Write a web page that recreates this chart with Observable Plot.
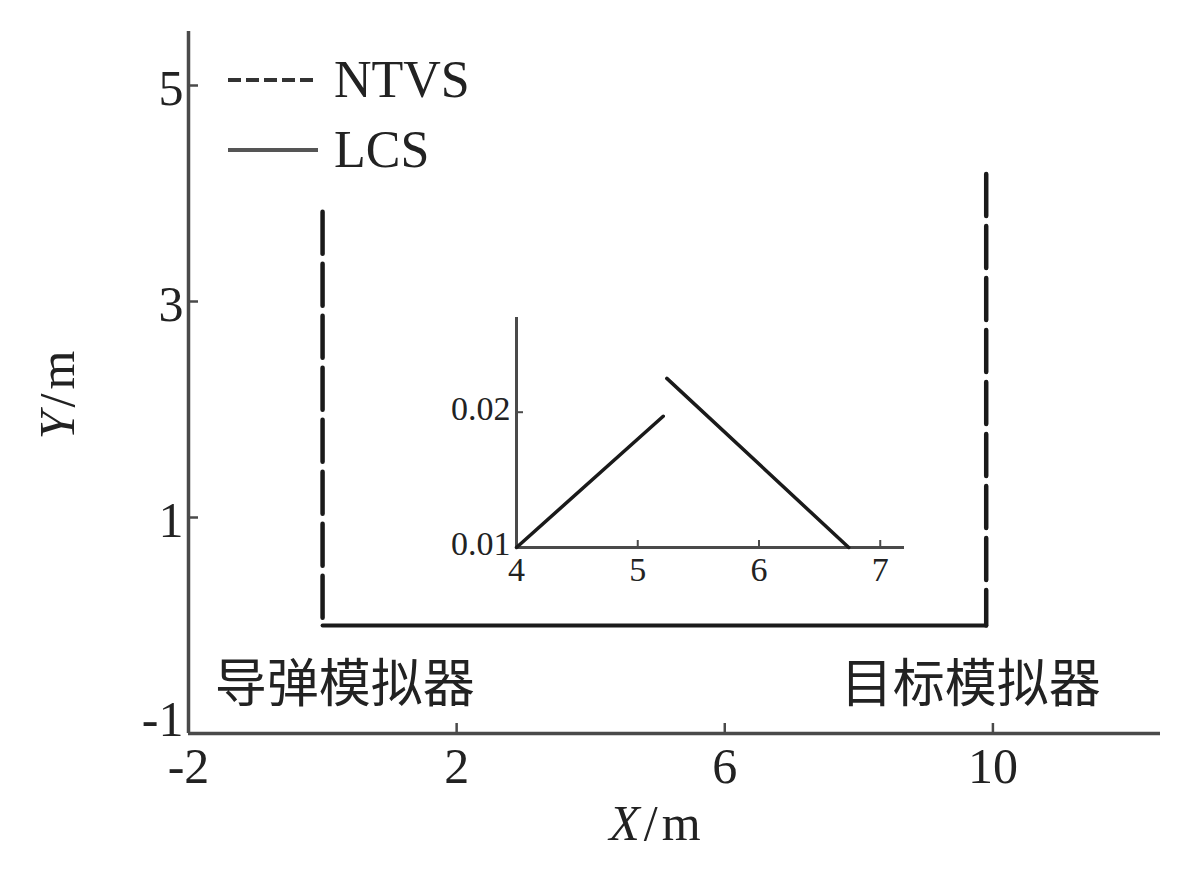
<!DOCTYPE html>
<html>
<head>
<meta charset="utf-8">
<script src="https://cdn.jsdelivr.net/npm/d3@7"></script>
<script src="https://cdn.jsdelivr.net/npm/@observablehq/plot@0.6"></script>
<style>
  html, body { margin: 0; padding: 0; background: white; }
  #wrap { position: relative; width: 1200px; height: 882px; }
  #inset { position: absolute; left: 416px; top: 307px; }
</style>
</head>
<body>
<div id="wrap"><div id="main"></div><div id="inset"></div></div>
<script>
// ---- main chart data ----
const xTicks = [-2, 2, 6, 10];
const yTicks = [-1, 1, 3, 5];
const ntvsX = [0, 9.9];          // dashed vertical lines (NTVS)
const ntvsTop = [3.83, 4.18];    // top of each dashed line
const lcsX = [0, 9.9];           // solid line (LCS)
const lcsY = [0, 0];
const simNames = ["导弹模拟器", "目标模拟器"];
const simX = [0.33, 9.67];
const simY = [-0.55, -0.55];

// ---- inset data ----
const insetXTicks = [4, 5, 6, 7];
const insetYTicks = [0.01, 0.02];
const seg1X = [4, 5.21];
const seg1Y = [0.01, 0.0197];
const seg2X = [5.24, 6.74];
const seg2Y = [0.0225, 0.01];

const axisColor = "#4a4a4a";
const lineColor = "#1a1a1a";
const serif = "'Liberation Serif', 'Times New Roman', serif";
const fmt = d => String(d);   // plain hyphen minus like the reference

// dashed lines drawn from the top down so the dash pattern starts at the top
const ntvsData = ntvsX.flatMap((x, i) => [
  {x, y: ntvsTop[i], id: i}, {x, y: 0, id: i}
]);
const lcsData = lcsX.map((x, i) => ({x, y: lcsY[i]}));
const simData = simNames.map((name, i) => ({name, x: simX[i], y: simY[i]}));
const yMin = d3.min(yTicks);

const main = Plot.plot({
  width: 1200, height: 882,
  marginLeft: 188, marginRight: 40, marginTop: 31, marginBottom: 149,
  x: {domain: [-2, 12.5]},
  y: {domain: [-1, 5.5]},
  style: {fontFamily: serif, fontSize: "50px", color: "#222", background: "white"},
  marks: [
    Plot.ruleX([-2], {stroke: axisColor, strokeWidth: 3.5}),
    Plot.ruleY([-1], {stroke: axisColor, strokeWidth: 3.5}),
    Plot.axisX(xTicks, {tickSize: -10, tickFormat: () => "", label: null, stroke: axisColor, strokeWidth: 2.5}),
    Plot.axisX(xTicks, {tickSize: 0, tickPadding: 14, label: null, fontSize: 50, tickFormat: fmt}),
    Plot.axisY(yTicks, {tickSize: -10, tickFormat: () => "", label: null, stroke: axisColor, strokeWidth: 2.5}),
    Plot.axisY(yTicks.filter(d => d !== yMin), {tickSize: 0, tickPadding: 5, label: null, fontSize: 50, tickFormat: fmt, dy: 3}),
    Plot.axisY(yTicks.filter(d => d === yMin), {tickSize: 0, tickPadding: 5, label: null, fontSize: 50, tickFormat: fmt, dy: -14}),
    Plot.line(ntvsData, {x: "x", y: "y", z: "id", stroke: lineColor, strokeWidth: 4.5, strokeDasharray: "42,10"}),
    Plot.line(lcsData, {x: "x", y: "y", stroke: lineColor, strokeWidth: 4}),
    Plot.text(simData, {x: "x", y: "y", text: "name", fontFamily: "'Noto Sans CJK SC', sans-serif", fontSize: 52, fill: "#222"})
  ]
});
document.getElementById("main").appendChild(main);

// axis labels and legend (real text)
const svg = d3.select(main);
const xl = svg.append("text").attr("x", 655).attr("y", 840).attr("text-anchor", "middle")
  .attr("font-family", serif).attr("font-size", 50).attr("fill", "#222");
xl.append("tspan").attr("font-style", "italic").text("X");
xl.append("tspan").attr("dx", 4).text("/");
xl.append("tspan").attr("dx", 4).text("m");
const yl = svg.append("text").attr("transform", "translate(74,395) rotate(-90)").attr("text-anchor", "middle")
  .attr("font-family", serif).attr("font-size", 50).attr("fill", "#222");
yl.append("tspan").attr("font-style", "italic").text("Y");
yl.append("tspan").attr("dx", 4).text("/");
yl.append("tspan").attr("dx", 4).text("m");

const legendItems = [
  {label: "NTVS", dash: "13,5", y: 80},
  {label: "LCS", dash: null, y: 150}
];
const lg = svg.append("g");
legendItems.forEach(it => {
  const ln = lg.append("line").attr("x1", 228).attr("x2", 318).attr("y1", it.y).attr("y2", it.y)
    .attr("stroke", it.dash ? "#333" : "#555").attr("stroke-width", 4);
  if (it.dash) ln.attr("stroke-dasharray", it.dash);
  lg.append("text").attr("x", 334).attr("y", it.y + 17).attr("text-anchor", "start")
    .attr("font-family", serif).attr("font-size", 52).attr("fill", "#222").text(it.label);
});

// ---- inset ----
const seg1 = seg1X.map((x, i) => ({x, y: seg1Y[i]}));
const seg2 = seg2X.map((x, i) => ({x, y: seg2Y[i]}));
const inset = Plot.plot({
  width: 498, height: 290,
  marginLeft: 100, marginRight: 10, marginTop: 10, marginBottom: 50,
  x: {domain: [4, 7.2]},
  y: {domain: [0.01, 0.027]},
  style: {fontFamily: serif, fontSize: "34px", color: "#222", background: "transparent", overflow: "visible"},
  marks: [
    Plot.ruleX([4], {stroke: axisColor, strokeWidth: 3}),
    Plot.ruleY([0.01], {stroke: axisColor, strokeWidth: 3}),
    Plot.axisX(insetXTicks, {tickSize: -7, tickFormat: () => "", label: null, stroke: axisColor, strokeWidth: 2}),
    Plot.axisX(insetXTicks, {tickSize: 0, tickPadding: 9, label: null, fontSize: 34, tickFormat: d3.format("d")}),
    Plot.axisY(insetYTicks, {tickSize: -7, tickFormat: () => "", label: null, stroke: axisColor, strokeWidth: 2}),
    Plot.axisY(insetYTicks, {tickSize: 0, tickPadding: 6, label: null, fontSize: 34, tickFormat: d3.format(".2f"), dy: -3}),
    Plot.line(seg1, {x: "x", y: "y", stroke: lineColor, strokeWidth: 3.5}),
    Plot.line(seg2, {x: "x", y: "y", stroke: lineColor, strokeWidth: 3.5})
  ]
});
document.getElementById("inset").appendChild(inset);
</script>
</body>
</html>
